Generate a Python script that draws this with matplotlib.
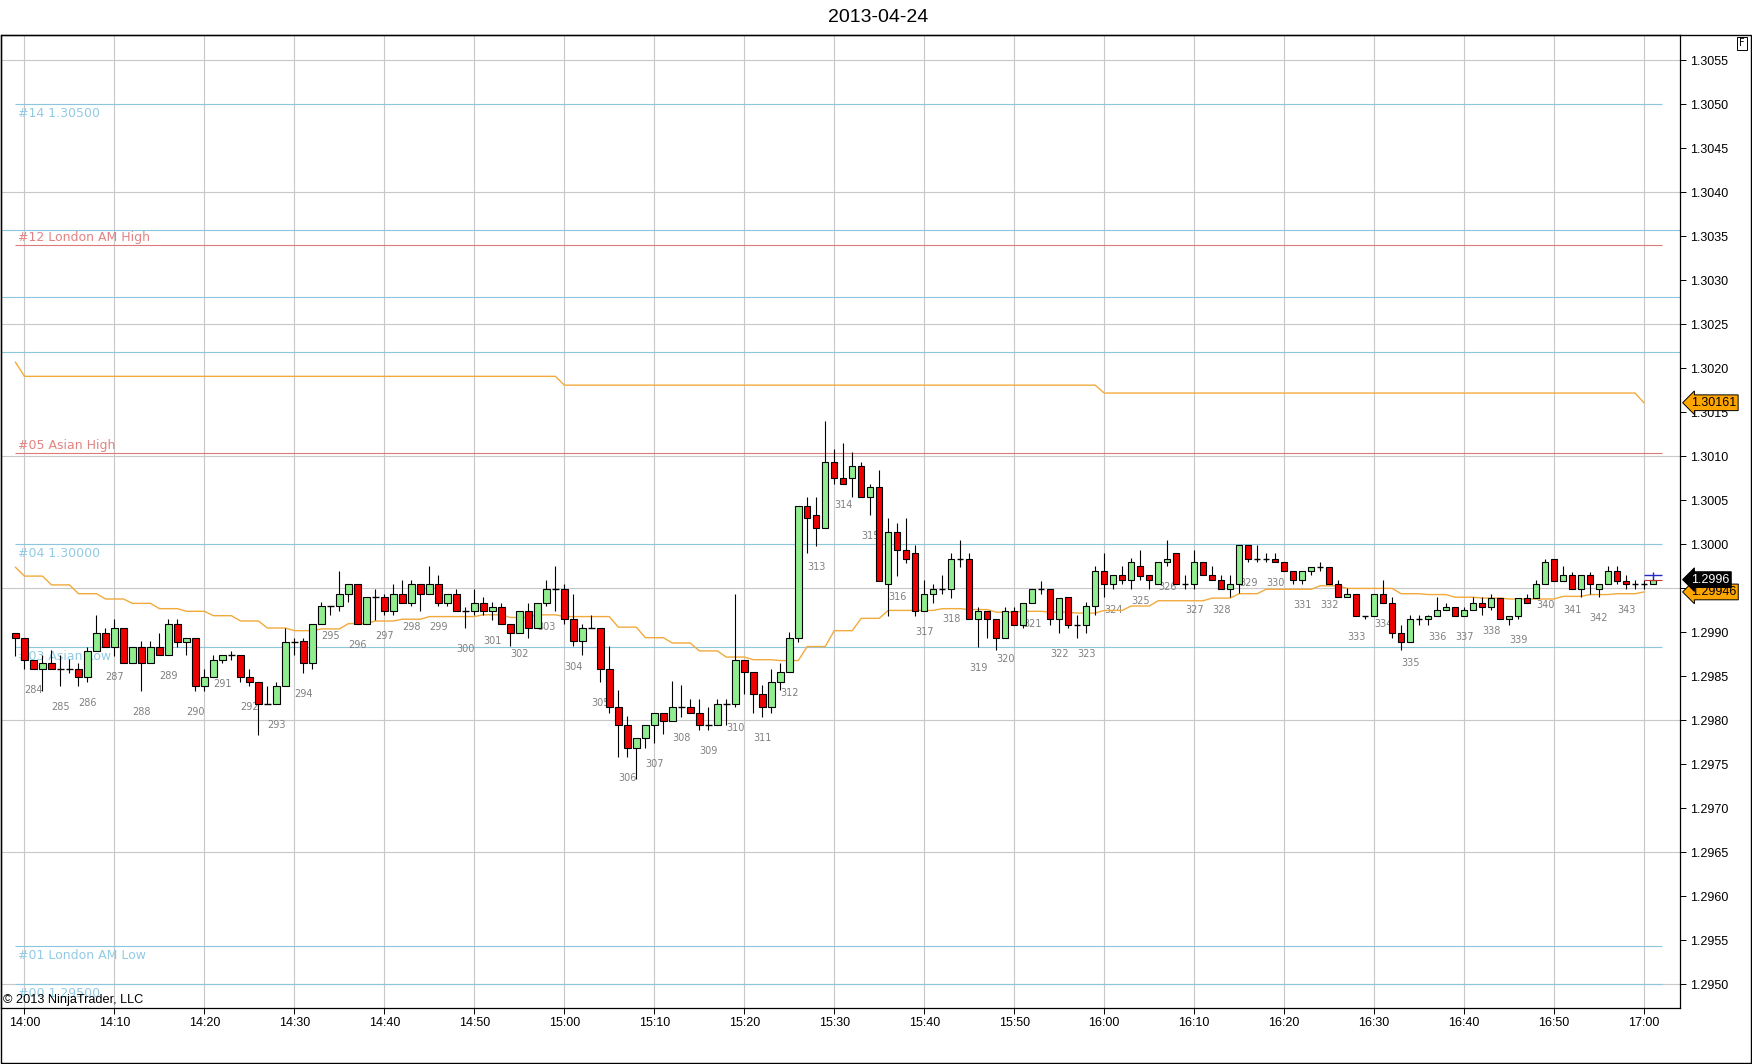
import numpy as np
import matplotlib
matplotlib.use("Agg")
import matplotlib.pyplot as plt
from matplotlib.transforms import blended_transform_factory
from matplotlib.patches import Rectangle

# 1-minute EUR/USD bars, 13:59 .. 17:01
opens = [
    1.29899, 1.29894, 1.29869, 1.29859, 1.29865, 1.29859, 1.29859, 1.29859, 1.29849, 1.29879,
    1.29899, 1.29884, 1.29905, 1.29865, 1.29884, 1.29865, 1.29884, 1.29874, 1.29910, 1.29889,
    1.29894, 1.29839, 1.29849, 1.29869, 1.29874, 1.29874, 1.29849, 1.29844, 1.29819, 1.29819,
    1.29839, 1.29889, 1.29890, 1.29865, 1.29910, 1.29930, 1.29930, 1.29944, 1.29955, 1.29910,
    1.29940, 1.29940, 1.29924, 1.29944, 1.29934, 1.29955, 1.29944, 1.29955, 1.29934, 1.29944,
    1.29924, 1.29924, 1.29934, 1.29924, 1.29929, 1.29910, 1.29899, 1.29924, 1.29905, 1.29934,
    1.29949, 1.29949, 1.29915, 1.29890, 1.29905, 1.29905, 1.29859, 1.29815, 1.29795, 1.29769,
    1.29780, 1.29795, 1.29809, 1.29799, 1.29815, 1.29815, 1.29809, 1.29795, 1.29795, 1.29819,
    1.29819, 1.29869, 1.29855, 1.29830, 1.29815, 1.29844, 1.29855, 1.29894, 1.30044, 1.30034,
    1.30019, 1.30094, 1.30075, 1.30075, 1.30089, 1.30054, 1.30065, 1.29955, 1.30014, 1.29994,
    1.29990, 1.29924, 1.29944, 1.29949, 1.29949, 1.29984, 1.29984, 1.29915, 1.29924, 1.29915,
    1.29894, 1.29924, 1.29909, 1.29934, 1.29949, 1.29949, 1.29915, 1.29940, 1.29909, 1.29909,
    1.29930, 1.29970, 1.29955, 1.29965, 1.29960, 1.29975, 1.29965, 1.29955, 1.29980, 1.29990,
    1.29955, 1.29955, 1.29980, 1.29965, 1.29960, 1.29949, 1.29955, 1.29999, 1.29984, 1.29984,
    1.29984, 1.29980, 1.29970, 1.29960, 1.29970, 1.29974, 1.29974, 1.29955, 1.29940, 1.29944,
    1.29919, 1.29919, 1.29944, 1.29934, 1.29899, 1.29889, 1.29915, 1.29915, 1.29919, 1.29925,
    1.29929, 1.29919, 1.29925, 1.29934, 1.29929, 1.29939, 1.29915, 1.29919, 1.29939, 1.29939,
    1.29955, 1.29984, 1.29959, 1.29965, 1.29949, 1.29965, 1.29949, 1.29955, 1.29970, 1.29959,
    1.29955, 1.29955, 1.29955,
]
highs = [
    1.29899, 1.29894, 1.29869, 1.29874, 1.29880, 1.29874, 1.29870, 1.29865, 1.29884, 1.29920,
    1.29905, 1.29915, 1.29905, 1.29884, 1.29890, 1.29890, 1.29899, 1.29915, 1.29915, 1.29894,
    1.29894, 1.29859, 1.29874, 1.29874, 1.29879, 1.29874, 1.29859, 1.29844, 1.29839, 1.29844,
    1.29905, 1.29894, 1.29894, 1.29910, 1.29935, 1.29930, 1.29970, 1.29955, 1.29955, 1.29940,
    1.29949, 1.29944, 1.29955, 1.29960, 1.29960, 1.29955, 1.29975, 1.29965, 1.29944, 1.29949,
    1.29929, 1.29949, 1.29940, 1.29935, 1.29934, 1.29910, 1.29924, 1.29934, 1.29934, 1.29960,
    1.29975, 1.29955, 1.29944, 1.29910, 1.29920, 1.29905, 1.29885, 1.29835, 1.29805, 1.29780,
    1.29795, 1.29809, 1.29809, 1.29845, 1.29840, 1.29824, 1.29824, 1.29815, 1.29824, 1.29824,
    1.29944, 1.29869, 1.29855, 1.29840, 1.29859, 1.29865, 1.29900, 1.30044, 1.30054, 1.30054,
    1.30140, 1.30109, 1.30115, 1.30105, 1.30094, 1.30069, 1.30085, 1.30030, 1.30024, 1.30030,
    1.29999, 1.29960, 1.29955, 1.29965, 1.29990, 1.30005, 1.29990, 1.29929, 1.29924, 1.29915,
    1.29929, 1.29929, 1.29934, 1.29949, 1.29959, 1.29949, 1.29939, 1.29940, 1.29920, 1.29935,
    1.29975, 1.29990, 1.29965, 1.29975, 1.29985, 1.29994, 1.29965, 1.29980, 1.30005, 1.29990,
    1.29965, 1.29994, 1.29980, 1.29975, 1.29965, 1.29965, 1.29999, 1.29999, 1.29999, 1.29990,
    1.29990, 1.29980, 1.29970, 1.29970, 1.29974, 1.29980, 1.29974, 1.29960, 1.29950, 1.29944,
    1.29919, 1.29944, 1.29960, 1.29940, 1.29909, 1.29920, 1.29920, 1.29920, 1.29940, 1.29934,
    1.29929, 1.29929, 1.29940, 1.29940, 1.29944, 1.29939, 1.29919, 1.29939, 1.29944, 1.29960,
    1.29984, 1.29984, 1.29975, 1.29969, 1.29965, 1.29969, 1.29955, 1.29975, 1.29975, 1.29965,
    1.29960, 1.29960, 1.29965,
]
lows = [
    1.29873, 1.29859, 1.29859, 1.29833, 1.29859, 1.29839, 1.29854, 1.29839, 1.29844, 1.29879,
    1.29884, 1.29873, 1.29865, 1.29865, 1.29834, 1.29865, 1.29874, 1.29874, 1.29884, 1.29874,
    1.29834, 1.29834, 1.29849, 1.29865, 1.29869, 1.29844, 1.29839, 1.29784, 1.29819, 1.29819,
    1.29839, 1.29874, 1.29854, 1.29859, 1.29910, 1.29920, 1.29924, 1.29935, 1.29910, 1.29910,
    1.29914, 1.29920, 1.29920, 1.29934, 1.29930, 1.29924, 1.29944, 1.29930, 1.29930, 1.29924,
    1.29905, 1.29920, 1.29920, 1.29914, 1.29910, 1.29885, 1.29899, 1.29894, 1.29905, 1.29930,
    1.29924, 1.29910, 1.29885, 1.29874, 1.29905, 1.29844, 1.29809, 1.29759, 1.29759, 1.29733,
    1.29769, 1.29774, 1.29785, 1.29799, 1.29804, 1.29809, 1.29789, 1.29789, 1.29795, 1.29795,
    1.29815, 1.29830, 1.29809, 1.29804, 1.29809, 1.29835, 1.29855, 1.29889, 1.29990, 1.29998,
    1.30019, 1.30069, 1.30069, 1.30054, 1.30054, 1.30034, 1.29959, 1.29919, 1.29964, 1.29979,
    1.29919, 1.29924, 1.29934, 1.29944, 1.29939, 1.29974, 1.29915, 1.29884, 1.29894, 1.29880,
    1.29894, 1.29909, 1.29905, 1.29934, 1.29944, 1.29909, 1.29899, 1.29905, 1.29894, 1.29899,
    1.29920, 1.29940, 1.29949, 1.29955, 1.29949, 1.29960, 1.29949, 1.29955, 1.29975, 1.29955,
    1.29949, 1.29949, 1.29965, 1.29960, 1.29949, 1.29940, 1.29945, 1.29980, 1.29980, 1.29980,
    1.29980, 1.29970, 1.29955, 1.29955, 1.29965, 1.29970, 1.29955, 1.29940, 1.29940, 1.29919,
    1.29915, 1.29919, 1.29934, 1.29894, 1.29880, 1.29889, 1.29909, 1.29909, 1.29919, 1.29925,
    1.29919, 1.29919, 1.29925, 1.29920, 1.29925, 1.29915, 1.29909, 1.29915, 1.29934, 1.29939,
    1.29955, 1.29959, 1.29959, 1.29949, 1.29940, 1.29944, 1.29940, 1.29955, 1.29955, 1.29949,
    1.29949, 1.29949, 1.29955,
]
closes = [
    1.29894, 1.29869, 1.29859, 1.29865, 1.29859, 1.29859, 1.29859, 1.29849, 1.29879, 1.29899,
    1.29884, 1.29905, 1.29865, 1.29884, 1.29865, 1.29884, 1.29874, 1.29910, 1.29889, 1.29894,
    1.29839, 1.29849, 1.29869, 1.29874, 1.29874, 1.29849, 1.29844, 1.29819, 1.29819, 1.29839,
    1.29889, 1.29889, 1.29865, 1.29910, 1.29930, 1.29930, 1.29944, 1.29955, 1.29910, 1.29940,
    1.29940, 1.29924, 1.29944, 1.29934, 1.29955, 1.29944, 1.29955, 1.29934, 1.29944, 1.29924,
    1.29924, 1.29934, 1.29924, 1.29929, 1.29910, 1.29899, 1.29924, 1.29905, 1.29934, 1.29949,
    1.29949, 1.29915, 1.29890, 1.29905, 1.29905, 1.29859, 1.29815, 1.29795, 1.29769, 1.29780,
    1.29795, 1.29809, 1.29799, 1.29815, 1.29815, 1.29809, 1.29795, 1.29795, 1.29819, 1.29819,
    1.29869, 1.29855, 1.29830, 1.29815, 1.29844, 1.29855, 1.29894, 1.30044, 1.30030, 1.30019,
    1.30094, 1.30075, 1.30069, 1.30089, 1.30054, 1.30065, 1.29959, 1.30014, 1.29994, 1.29984,
    1.29924, 1.29944, 1.29949, 1.29949, 1.29984, 1.29984, 1.29915, 1.29924, 1.29915, 1.29894,
    1.29924, 1.29909, 1.29934, 1.29949, 1.29949, 1.29915, 1.29939, 1.29909, 1.29909, 1.29930,
    1.29970, 1.29955, 1.29965, 1.29960, 1.29980, 1.29964, 1.29960, 1.29980, 1.29984, 1.29955,
    1.29955, 1.29980, 1.29965, 1.29960, 1.29949, 1.29955, 1.29999, 1.29984, 1.29984, 1.29984,
    1.29980, 1.29970, 1.29960, 1.29970, 1.29974, 1.29974, 1.29955, 1.29940, 1.29944, 1.29919,
    1.29919, 1.29944, 1.29934, 1.29899, 1.29889, 1.29915, 1.29915, 1.29919, 1.29925, 1.29929,
    1.29919, 1.29925, 1.29934, 1.29929, 1.29939, 1.29915, 1.29919, 1.29939, 1.29934, 1.29955,
    1.29980, 1.29959, 1.29965, 1.29949, 1.29965, 1.29955, 1.29955, 1.29970, 1.29959, 1.29955,
    1.29955, 1.29955, 1.29960,
]

# lower orange indicator, one value per 3-minute block (first value = bar 0)
avg_blocks = [
    1.29974, 1.29964, 1.29954, 1.29944, 1.29938, 1.29933, 1.29927, 1.29924, 1.29919, 1.29913,
    1.29905, 1.29902, 1.29904, 1.29910, 1.29913, 1.29915, 1.29918, 1.29918, 1.29920, 1.29917,
    1.29920, 1.29918, 1.29918, 1.29906, 1.29894, 1.29888, 1.29879, 1.29872, 1.29869, 1.29868,
    1.29884, 1.29902, 1.29916, 1.29925, 1.29925, 1.29927, 1.29926, 1.29923, 1.29924, 1.29923,
    1.29922, 1.29925, 1.29930, 1.29936, 1.29936, 1.29939, 1.29944, 1.29949, 1.29949, 1.29953,
    1.29950, 1.29950, 1.29944, 1.29943, 1.29940, 1.29939, 1.29938, 1.29938, 1.29941, 1.29943,
    1.29944, 1.29946,
]
# upper orange line: hourly values and how many bars each one covers
upper_values = [1.30207, 1.30191, 1.30181, 1.30172, 1.30161]
upper_counts = [1, 60, 60, 60, 1]

first_bar_number = 284
time_labels = ["14:00", "14:10", "14:20", "14:30", "14:40", "14:50", "15:00", "15:10",
               "15:20", "15:30", "15:40", "15:50", "16:00", "16:10", "16:20", "16:30",
               "16:40", "16:50", "17:00"]

level_prices = [1.30500, 1.30340, 1.30104, 1.30000, 1.29884, 1.29544, 1.29500]
level_names = ["#14 1.30500", "#12 London AM High", "#05 Asian High", "#04 1.30000",
               "#03 Asian Low", "#01 London AM Low", "#00 1.29500"]
level_kinds = ["blue", "red", "red", "blue", "blue", "blue", "blue"]
plain_lines = [1.30357, 1.30281, 1.30219]
grid_prices = [1.2950, 1.2965, 1.2980, 1.2995, 1.3010, 1.3025, 1.3040, 1.3055]

# colours
BLUE = "#8CC6DC"
BLUE_TXT = "#92CBE4"
RED = "#DC7A7A"
RED_TXT = "#E38282"
ORANGE = "#F2AA3C"
GRID = "#C8C8C8"
UP = "#90EE90"
DOWN = "#EE0000"

o = np.array(opens)
h = np.array(highs)
l = np.array(lows)
c = np.array(closes)
bars = np.arange(len(o))

avg = np.concatenate([[avg_blocks[0]], np.repeat(avg_blocks[1:], 3)[:181]])
upper = np.repeat(upper_values, upper_counts)

W, H = 1752, 1064
fig = plt.figure(figsize=(W / 100, H / 100), dpi=100)
fig.patch.set_facecolor("white")
ax = fig.add_axes([0.5 / W, 1 - 1008 / H, 1679.5 / W, (1008 - 35) / H])
ax.set_xlim(-15 / 9, 1665 / 9)
ax.set_ylim(1.294732, 1.305789)

# grid
for gp in grid_prices:
    ax.axhline(gp, color=GRID, lw=0.8, zorder=0)
ax.set_xticks(np.arange(1, 182, 10))
ax.set_xticklabels(time_labels, family="Liberation Sans", fontsize=9)
ax.grid(axis="x", color=GRID, lw=0.8, zorder=0)
ax.set_axisbelow(True)

# right price axis
ax.yaxis.tick_right()
ticks = np.round(np.arange(1.2950, 1.30551, 0.0005), 4)
ax.set_yticks(ticks)
ax.set_yticklabels([f"{t:.4f}" for t in ticks], family="Liberation Sans", fontsize=9)
ax.tick_params(axis="y", direction="out", length=4, width=0.7, pad=3)
ax.tick_params(axis="x", direction="out", length=4.5, width=0.7, pad=2)
for s in ax.spines.values():
    s.set_color("black")
    s.set_linewidth(0.9)

# horizontal levels
for price, name, kind in zip(level_prices, level_names, level_kinds):
    col = BLUE if kind == "blue" else RED
    ax.hlines(price, 0, 183, color=col, lw=0.8, zorder=1)
    if kind == "blue":
        dy, tcol = -13, BLUE_TXT
    else:
        dy, tcol = 4, RED_TXT
    ax.annotate(name, (0, price), xytext=(3, dy), textcoords="offset pixels",
                ha="left", va="baseline", fontsize=9, color=tcol,
                family="DejaVu Sans", zorder=1)
for price in plain_lines:
    ax.axhline(price, color=BLUE, lw=0.8, zorder=1)

# indicator lines
ax.plot(bars[:len(avg)], avg, color=ORANGE, lw=1.0, zorder=2)
ax.plot(bars[:len(upper)], upper, color=ORANGE, lw=1.0, zorder=2)

# bar counter labels every 3 bars
for k in range(60):
    b = 2 + 3 * k
    ax.annotate(str(first_bar_number + k), (b, l[b]), xytext=(0, -21),
                textcoords="offset pixels", ha="center", va="center",
                fontsize=7, color="#808080", family="DejaVu Sans", zorder=1)

# candles
ax.vlines(bars, l, h, color="black", lw=0.8, zorder=3)
body_w = 0.72
up = c > o
down = c < o
flat = c == o
ax.bar(bars[up], (c - o)[up], bottom=o[up], width=body_w, color=UP,
       edgecolor="black", linewidth=0.8, zorder=4)
ax.bar(bars[down], (o - c)[down], bottom=c[down], width=body_w, color=DOWN,
       edgecolor="black", linewidth=0.8, zorder=4)
ax.hlines(c[flat], bars[flat] - body_w / 2, bars[flat] + body_w / 2,
          color="black", lw=1.0, zorder=4)

# bid/ask marks on the live bar
last = bars[-1]
ax.hlines(c[-1] + 0.00005, last - 1, last + 1, color="#2828C8", lw=1.0, zorder=5)
ax.vlines(last, c[-1] + 0.00001, c[-1] + 0.00009, color="#2828C8", lw=1.0, zorder=5)
ax.hlines(c[-1], last - 1, last + 1, color="#D03030", lw=0.8, zorder=5)

# price markers on the axis
blend = blended_transform_factory(ax.transAxes, ax.transData)
ax.annotate(f"{upper[-1]:.5f}", xy=(1, upper[-1]), xycoords=blend, xytext=(11, 0),
            textcoords="offset pixels", ha="left", va="center", fontsize=9,
            family="Liberation Sans", color="black", annotation_clip=False,
            bbox=dict(boxstyle="larrow,pad=0.15", fc="#FFA500", ec="black", lw=0.7),
            zorder=10)
ax.annotate(f"{avg[-1]:.5f}", xy=(1, avg[-1]), xycoords=blend, xytext=(11, 0),
            textcoords="offset pixels", ha="left", va="center", fontsize=9,
            family="Liberation Sans", color="black", annotation_clip=False,
            bbox=dict(boxstyle="larrow,pad=0.15", fc="#FFA500", ec="black", lw=0.7),
            zorder=10)
ax.annotate(f"{c[-1]:.4f}", xy=(1, c[-1]), xycoords=blend, xytext=(11, 0),
            textcoords="offset pixels", ha="left", va="center", fontsize=9,
            family="Liberation Sans", color="white", annotation_clip=False,
            bbox=dict(boxstyle="larrow,pad=0.15", fc="black", ec="black", lw=0.7),
            zorder=11)

# frame, title and captions
fig.add_artist(Rectangle((0.5 / W, 1 / H), 1750 / W, (1063 - 35) / H, transform=fig.transFigure,
                         fill=False, ec="black", lw=1.0))
fig.text(878 / W, 1 - 17 / H, "2013-04-24", ha="center", va="center", fontsize=14,
         family="Liberation Sans")
fig.text(3 / W, 1 - 1000 / H, "\u00a9 2013 NinjaTrader, LLC", ha="left", va="center",
         fontsize=9.2, family="Liberation Sans")
fig.text(1742 / W, 1 - 43.5 / H, "F", ha="center", va="center", fontsize=7,
         family="DejaVu Sans",
         bbox=dict(boxstyle="square,pad=0.2", fc="white", ec="black", lw=0.7))

fig.savefig("out.png", dpi=100)
